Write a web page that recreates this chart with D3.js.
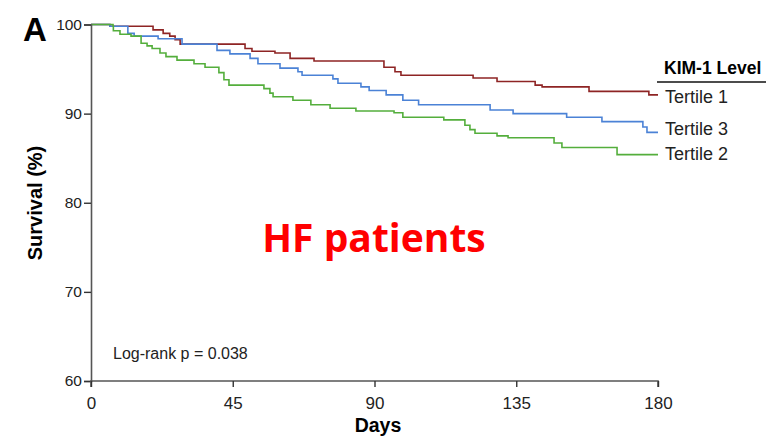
<!DOCTYPE html>
<html>
<head>
<meta charset="utf-8">
<script src="https://cdn.jsdelivr.net/npm/d3@7"></script>
<style>
  body { margin: 0; background: #fff; }
  text { font-family: "Liberation Sans", Arial, sans-serif; }
</style>
</head>
<body>
<div id="chart"></div>
<script>
// step points: [day, survival %]
const tertile1 = [[0,100],[6,99.8],[19.7,99.4],[22.9,99.0],[25,98.7],[26.7,98.3],[28.3,97.8],[48.9,97.3],[51.1,97.0],[58.4,96.8],[63.2,96.2],[70.8,95.9],[93,95.2],[96.5,94.7],[98.4,94.3],[121.3,94.0],[128.9,93.6],[141,93.2],[143.2,93.0],[158.1,92.5],[177.1,92.1],[180,92.1]];
const tertile3 = [[0,100],[6,99.8],[11.7,99.0],[13.7,98.7],[21.3,98.4],[28.9,97.8],[40,97.1],[44.1,96.7],[50.5,96.2],[53,95.6],[60,95.1],[65.7,94.7],[67,94.3],[76.8,93.9],[78.4,93.4],[85.7,93.0],[88.3,92.6],[93.7,92.1],[99,91.5],[104,91.0],[126.7,90.4],[134,90.0],[151,89.6],[162.2,89.1],[175.2,88.5],[176.5,87.9],[180,87.9]];
const tertile2 = [[0,100],[7,99.8],[7.1,99.3],[9.2,98.9],[12.7,98.7],[15.9,97.9],[17.8,97.6],[19.4,97.3],[21.9,96.8],[23.8,96.4],[27.3,96.0],[32.7,95.6],[36.2,95.2],[40.6,94.6],[42.2,93.8],[43.8,93.2],[54.9,92.8],[56.8,92.3],[57.8,91.9],[64.1,91.5],[69.8,91.0],[75.9,90.6],[84.1,90.3],[96.2,90.1],[99,89.6],[112,89.3],[118.7,88.7],[120.3,88.2],[121.9,87.8],[128.9,87.5],[132.4,87.3],[147,86.7],[149.5,86.2],[167,85.4],[180,85.4]];

const xTicks = [0, 45, 90, 135, 180];
const yTicks = [60, 70, 80, 90, 100];

const series = [
  {name: "Tertile 1", data: tertile1, color: "#8e2424", labelY: 103},
  {name: "Tertile 3", data: tertile3, color: "#4b82d6", labelY: 135},
  {name: "Tertile 2", data: tertile2, color: "#54ae3c", labelY: 160}
];

const width = 766, height = 438;
const x = d3.scaleLinear().domain([0, 180]).range([91, 658]);
const y = d3.scaleLinear().domain([60, 100]).range([381, 24.5]);

const svg = d3.select("#chart").append("svg")
  .attr("width", width)
  .attr("height", height);

const line = d3.line()
  .x(d => x(d[0]))
  .y(d => y(d[1]))
  .curve(d3.curveStepAfter);

svg.append("g")
  .attr("fill", "none")
  .attr("stroke-width", 1.6)
  .selectAll("path")
  .data(series)
  .join("path")
  .attr("stroke", d => d.color)
  .attr("d", d => line(d.data));

// axes
const yAxis = svg.append("g")
  .attr("transform", `translate(${x(0)},0)`)
  .call(d3.axisLeft(y).tickValues(yTicks).tickSize(7).tickPadding(2));
const xAxis = svg.append("g")
  .attr("transform", `translate(0,${y(60)})`)
  .call(d3.axisBottom(x).tickValues(xTicks).tickSize(6).tickPadding(10));

[yAxis, xAxis].forEach(g => {
  g.select(".domain").attr("stroke", "#555").attr("stroke-width", 1.6);
  g.selectAll(".tick line").attr("stroke", "#333").attr("stroke-width", 1.4);
  g.selectAll(".tick text").attr("fill", "#222")
    .attr("font-family", "Liberation Sans, Arial, sans-serif");
});
yAxis.selectAll(".tick text").attr("font-size", 15.5);
xAxis.selectAll(".tick text").attr("font-size", 17);
xAxis.select(".domain").attr("d", `M${x(0)},6V0H${x(180)}V6`);

// panel letter
svg.append("text")
  .attr("x", 23).attr("y", 41)
  .attr("font-size", 33).attr("font-weight", "bold")
  .text("A");

// axis titles
svg.append("text")
  .attr("x", 378).attr("y", 432)
  .attr("text-anchor", "middle")
  .attr("font-size", 19.5).attr("font-weight", "bold")
  .text("Days");

svg.append("text")
  .attr("transform", "translate(42,203) rotate(-90)")
  .attr("text-anchor", "middle")
  .attr("font-size", 20).attr("font-weight", "bold")
  .text("Survival (%)");

// legend
svg.append("text")
  .attr("x", 664).attr("y", 74)
  .attr("font-size", 17.5).attr("font-weight", "bold")
  .text("KIM-1 Level");
svg.append("line")
  .attr("x1", 657).attr("x2", 766)
  .attr("y1", 82).attr("y2", 82)
  .attr("stroke", "#111").attr("stroke-width", 1.6);

svg.append("g")
  .attr("font-size", 18)
  .selectAll("text")
  .data(series)
  .join("text")
  .attr("x", 665)
  .attr("y", d => d.labelY)
  .attr("fill", "#222")
  .text(d => d.name);

svg.append("text")
  .attr("x", 113).attr("y", 359)
  .attr("font-size", 16).attr("fill", "#222")
  .text("Log-rank p = 0.038");

svg.append("text")
  .attr("x", 374).attr("y", 252)
  .attr("text-anchor", "middle")
  .attr("font-size", 39).attr("font-weight", "bold")
  .attr("fill", "#ff0000")
  .style("font-family", "'Open Sans', Calibri, sans-serif")
  .text("HF patients");
</script>
</body>
</html>
